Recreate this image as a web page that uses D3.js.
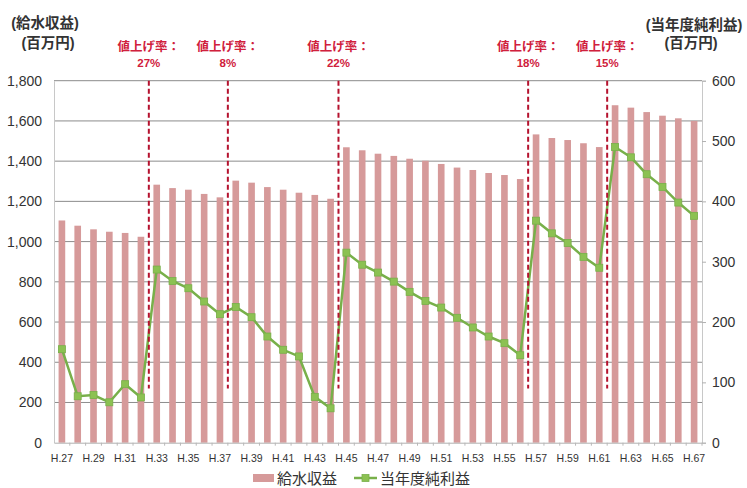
<!DOCTYPE html>
<html>
<head>
<meta charset="utf-8">
<script src="https://cdn.jsdelivr.net/npm/d3@7"></script>
<style>
  html, body { margin: 0; padding: 0; background: #fff; }
  svg { display: block; font-family: "Liberation Sans", Arial, "Noto Sans CJK JP", sans-serif; }
</style>
</head>
<body>
<svg id="chart" width="747" height="488"></svg>
<script>
// Fiscal years (Heisei)
const years = ["H.27","H.28","H.29","H.30","H.31","H.32","H.33","H.34","H.35","H.36",
  "H.37","H.38","H.39","H.40","H.41","H.42","H.43","H.44","H.45","H.46",
  "H.47","H.48","H.49","H.50","H.51","H.52","H.53","H.54","H.55","H.56",
  "H.57","H.58","H.59","H.60","H.61","H.62","H.63","H.64","H.65","H.66","H.67"];

// 給水収益 (million yen, left axis)
const waterRevenue = [1105,1079,1061,1049,1043,1024,1283,1266,1258,1237,
  1220,1303,1293,1271,1258,1243,1232,1213,1469,1454,
  1437,1426,1412,1402,1386,1368,1356,1341,1331,1311,
  1533,1515,1505,1489,1470,1678,1666,1644,1626,1613,1600];

// 当年度純利益 (million yen, right axis)
const netIncome = [155,77,79,67,97,75,287,268,256,234,
  213,225,208,176,154,143,76,57,315,295,
  282,267,250,235,224,207,191,176,165,145,
  368,347,331,308,290,490,473,445,424,398,376];

// Tariff revisions: first year at the new rate, and the increase
const hikeYears = ["H.33","H.38","H.45","H.57","H.62"];
const hikeRates = ["27%","8%","22%","18%","15%"];

const leftTicks = [0,200,400,600,800,1000,1200,1400,1600,1800];
const rightTicks = [0,100,200,300,400,500,600];
const xLabelYears = years.filter((d, i) => i % 2 === 0);

const svg = d3.select("#chart");
const plot = { left: 54, right: 702, top: 80.7, bottom: 442.7 };

const pIn = 0.58;
const x = d3.scaleBand().domain(years).range([plot.left, plot.right])
  .paddingInner(pIn).paddingOuter(pIn / 2);
const yL = d3.scaleLinear().domain([0, 1800]).range([plot.bottom, plot.top]);
const yR = d3.scaleLinear().domain([0, 600]).range([plot.bottom, plot.top]);
const cx = d => x(d) + x.bandwidth() / 2;
const gapBefore = d => x(d) - (x.step() - x.bandwidth()) / 2;

// Horizontal gridlines on the left scale
svg.append("g").selectAll("line").data(leftTicks.slice(1)).join("line")
  .attr("x1", plot.left).attr("x2", plot.right)
  .attr("y1", d => yL(d)).attr("y2", d => yL(d))
  .attr("stroke", "#8c8c8c").attr("stroke-width", 1);

// Left axis
const axL = svg.append("g").attr("transform", `translate(${plot.left},0)`)
  .call(d3.axisLeft(yL).tickValues(leftTicks).tickFormat(d3.format(",")).tickSize(0).tickPadding(12));
axL.select(".domain").attr("stroke", "#c8c8c8");
axL.selectAll("text").attr("font-size", 14).attr("fill", "#333");

// Right axis
const axR = svg.append("g").attr("transform", `translate(${plot.right},0)`)
  .call(d3.axisRight(yR).tickValues(rightTicks).tickSize(4).tickPadding(6));
axR.select(".domain").attr("stroke", "#c8c8c8");
axR.selectAll(".tick line").attr("stroke", "#b0b0b0");
axR.selectAll("text").attr("font-size", 14).attr("fill", "#333");

// Bars
svg.append("g").selectAll("rect").data(years).join("rect")
  .attr("x", d => x(d)).attr("width", x.bandwidth())
  .attr("y", (d, i) => yL(waterRevenue[i]))
  .attr("height", (d, i) => yL(0) - yL(waterRevenue[i]))
  .attr("fill", "#d69a9a");

// Bottom axis
const axB = svg.append("g").attr("transform", `translate(0,${plot.bottom})`)
  .call(d3.axisBottom(x).tickValues(xLabelYears).tickSize(0).tickPadding(12));
axB.select(".domain").attr("stroke", "#b0b0b0");
axB.selectAll("text").attr("font-size", 10.5).attr("fill", "#333");
svg.append("g").selectAll("line").data(years.slice(1).concat(["end"])).join("line")
  .attr("x1", d => d === "end" ? plot.right : gapBefore(d))
  .attr("x2", d => d === "end" ? plot.right : gapBefore(d))
  .attr("y1", plot.bottom).attr("y2", plot.bottom + 3)
  .attr("stroke", "#b8b8b8");

// Net income line
const line = d3.line().x((d, i) => cx(years[i])).y(d => yR(d));
svg.append("path").datum(netIncome)
  .attr("d", line).attr("fill", "none")
  .attr("stroke", "#78b04a").attr("stroke-width", 2.5);
svg.append("g").selectAll("rect").data(netIncome).join("rect")
  .attr("x", (d, i) => cx(years[i]) - 3.5).attr("y", d => yR(d) - 3.5)
  .attr("width", 7).attr("height", 7)
  .attr("fill", "#8cc152").attr("stroke", "#78b04a").attr("stroke-width", 0.8);

// Tariff revision markers
const hikes = svg.append("g");
hikes.selectAll("line").data(hikeYears).join("line")
  .attr("x1", d => gapBefore(d)).attr("x2", d => gapBefore(d))
  .attr("y1", yL(1800)).attr("y2", yR(90))
  .attr("stroke", "#b5122e").attr("stroke-width", 2)
  .attr("stroke-dasharray", "5,3");
hikes.selectAll("text.h1").data(hikeYears).join("text").attr("class", "h1")
  .attr("x", d => gapBefore(d)).attr("y", 51)
  .attr("text-anchor", "middle").attr("font-size", 12.5).attr("font-weight", "bold")
  .attr("fill", "#d0203c").text("値上げ率：");
hikes.selectAll("text.h2").data(hikeYears).join("text").attr("class", "h2")
  .attr("x", d => gapBefore(d)).attr("y", 67)
  .attr("text-anchor", "middle").attr("font-size", 11.5).attr("font-weight", "bold")
  .attr("fill", "#d0203c").text((d, i) => hikeRates[i]);

// Axis titles
const title = (tx, ty, t, anchor) => svg.append("text")
  .attr("x", tx).attr("y", ty).attr("text-anchor", anchor)
  .attr("font-size", 14.5).attr("font-weight", "bold").attr("fill", "#333").text(t);
title(45, 28, "(給水収益)", "middle");
title(48, 48, "(百万円)", "middle");
title(694, 30, "(当年度純利益)", "middle");
title(691, 48, "(百万円)", "middle");

// Legend
const lg = svg.append("g");
lg.append("rect").attr("x", 253).attr("y", 474).attr("width", 21).attr("height", 8).attr("fill", "#d69a9a");
lg.append("text").attr("x", 277).attr("y", 484).attr("font-size", 15).attr("fill", "#333").text("給水収益");
lg.append("line").attr("x1", 354).attr("x2", 377).attr("y1", 478).attr("y2", 478)
  .attr("stroke", "#78b04a").attr("stroke-width", 2.5);
lg.append("rect").attr("x", 362).attr("y", 474.5).attr("width", 7).attr("height", 7)
  .attr("fill", "#8cc152").attr("stroke", "#78b04a").attr("stroke-width", 0.8);
lg.append("text").attr("x", 380).attr("y", 484).attr("font-size", 15).attr("fill", "#333").text("当年度純利益");
</script>
</body>
</html>
